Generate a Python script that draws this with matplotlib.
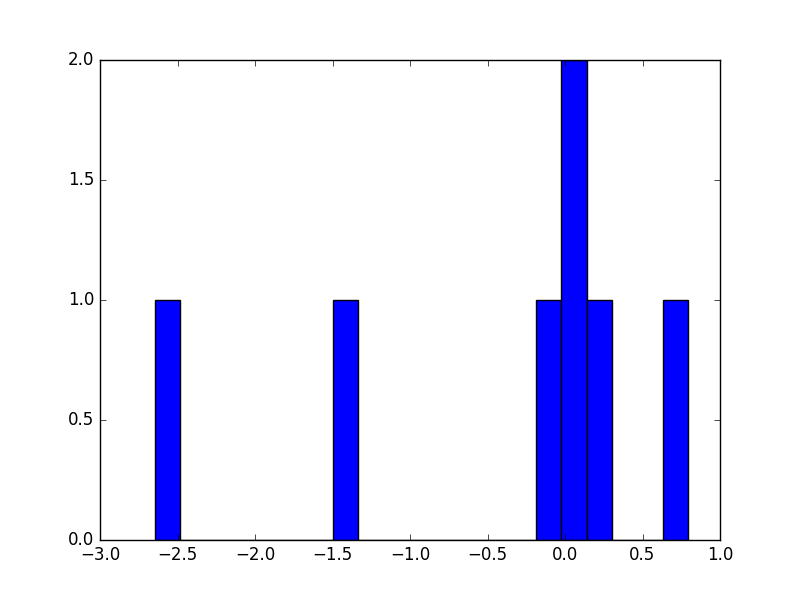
import numpy as np
import matplotlib
matplotlib.use('Agg')
import matplotlib.pyplot as plt

plt.style.use('classic')

# sample values
values = [-2.647, -1.45, -0.10, 0.02, 0.08, 0.20, 0.795]
n_bins = 21

fig = plt.figure(figsize=(8, 6), dpi=100)
ax = fig.add_subplot(111)
ax.hist(values, bins=n_bins, color='blue', edgecolor='black')
ax.set_xlim(-3, 1)
ax.set_ylim(0, 2)
fig.savefig('out.png', dpi=100)
